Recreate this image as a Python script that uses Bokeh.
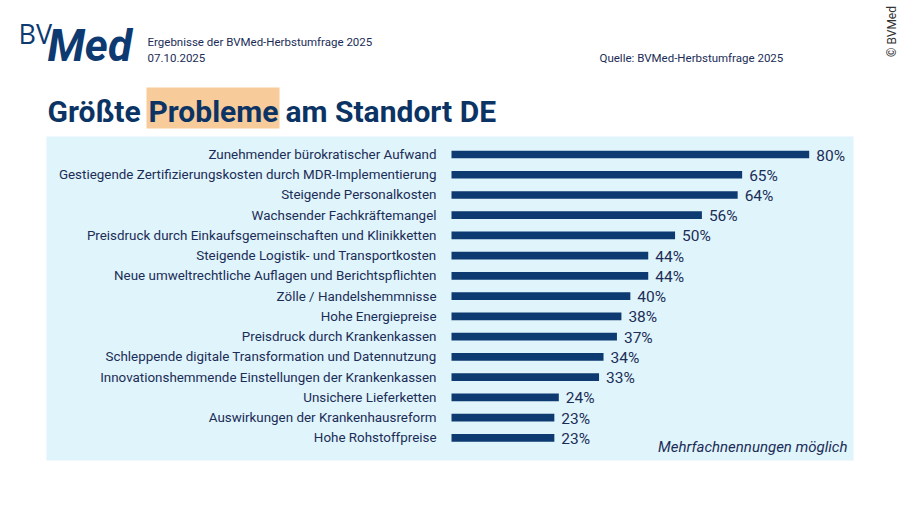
import math
from bokeh.plotting import figure
from bokeh.models import Range1d
from bokeh.embed import file_html
from bokeh.resources import INLINE
from bokeh.core.properties import value

# ---------------- data ----------------
categories = [
    "Zunehmender bürokratischer Aufwand",
    "Gestiegende Zertifizierungskosten durch MDR-Implementierung",
    "Steigende Personalkosten",
    "Wachsender Fachkräftemangel",
    "Preisdruck durch Einkaufsgemeinschaften und Klinikketten",
    "Steigende Logistik- und Transportkosten",
    "Neue umweltrechtliche Auflagen und Berichtspflichten",
    "Zölle / Handelshemmnisse",
    "Hohe Energiepreise",
    "Preisdruck durch Krankenkassen",
    "Schleppende digitale Transformation und Datennutzung",
    "Innovationshemmende Einstellungen der Krankenkassen",
    "Unsichere Lieferketten",
    "Auswirkungen der Krankenhausreform",
    "Hohe Rohstoffpreise",
]
values = [80, 65, 64, 56, 50, 44, 44, 40, 38, 37, 34, 33, 24, 23, 23]
value_labels = [f"{v}%" for v in values]
rows = list(range(len(categories)))

title_parts = ["Größte", "Probleme", "am Standort DE"]
subtitle = "Ergebnisse der BVMed-Herbstumfrage 2025"
date_text = "07.10.2025"
source_text = "Quelle: BVMed-Herbstumfrage  2025"
note_text = "Mehrfachnennungen möglich"
copyright_text = "© BVMed"

# ---------------- layout ----------------
W, H = 900, 506
X0, PX = 451.0, 4.4713       # canvas x of 0 %, pixels per %
Y0, S = 154.0, 20.236        # canvas y of first row, row pitch
SHIFT = 0.35                 # baseline correction (em)

def dx(px):
    return (px - X0) / PX

def dy(py):
    return (py - Y0) / S

def base(py, fs):
    return dy(py - SHIFT * fs)

NAVY = "#0d3a70"
TEXT = "#1b2d57"

p = figure(width=W, height=H, output_backend="svg", toolbar_location=None,
           x_range=Range1d(-X0 / PX, (W - X0) / PX),
           y_range=Range1d((H - Y0) / S, -Y0 / S),
           x_axis_location=None, y_axis_location=None, min_border=0)
p.grid.visible = False
p.outline_line_color = None
p.background_fill_color = "white"
p.border_fill_color = "white"

# panel
p.quad(left=[dx(46)], right=[dx(853)], top=[dy(136)], bottom=[dy(460)],
       fill_color="#e0f4fb", line_color=None)

# bars
p.hbar(y=rows, left=0, right=values, height=0.38, fill_color=NAVY, line_color=None)

# category labels
p.text(x=[0] * len(rows), y=rows, text=categories, x_offset=-15,
       text_align="right", text_baseline="middle",
       text_font=value("Roboto"), text_font_size="13.4px", text_color=TEXT)

# value labels
p.text(x=values, y=rows, text=value_labels, x_offset=7, y_offset=1,
       text_align="left", text_baseline="middle",
       text_font=value("Roboto"), text_font_size="15.5px", text_color=TEXT)

# title with highlight
p.quad(left=[dx(146)], right=[dx(279)], top=[dy(87)], bottom=[dy(128)],
       fill_color="#f8cb9b", line_color=None)
for t, xs in zip(title_parts, [47, 148, 285]):
    p.text(x=[dx(xs)], y=[base(121, 30)], text=[t], text_align="left", text_baseline="alphabetic",
           text_font=value("Roboto"), text_font_style="bold", text_font_size="30px",
           text_color="#0b3364")

# logo
p.text(x=[dx(18)], y=[base(42, 27)], text=["BV"], text_baseline="alphabetic",
       text_font=value("Open Sans"), text_font_size="27px", text_color=NAVY)
p.text(x=[dx(47)], y=[base(61, 44)], text=["Med"], text_baseline="alphabetic",
       text_font=value("Roboto"), text_font_style="bold italic", text_font_size="44px",
       text_color=NAVY)

# header texts
p.text(x=[dx(147)], y=[base(46, 11.5)], text=[subtitle], text_baseline="alphabetic",
       text_font=value("Roboto"), text_font_size="11.5px", text_color=TEXT)
p.text(x=[dx(147)], y=[base(62, 11.5)], text=[date_text], text_baseline="alphabetic",
       text_font=value("Roboto"), text_font_size="11.5px", text_color=TEXT)
p.text(x=[dx(599)], y=[base(62, 11.5)], text=[source_text], text_baseline="alphabetic",
       text_font=value("Roboto"), text_font_size="11.5px", text_color=TEXT)

# note
p.text(x=[dx(847)], y=[base(452, 15)], text=[note_text], text_align="right", text_baseline="alphabetic",
       text_font=value("Roboto"), text_font_style="italic", text_font_size="15px",
       text_color=TEXT)

# copyright (vertical)
p.text(x=[dx(891)], y=[dy(31)], text=[copyright_text], angle=math.pi / 2,
       text_align="center", text_baseline="middle",
       text_font=value("Roboto"), text_font_size="12px", text_color="#333333")

open("out.html", "w").write(file_html(p, INLINE))
